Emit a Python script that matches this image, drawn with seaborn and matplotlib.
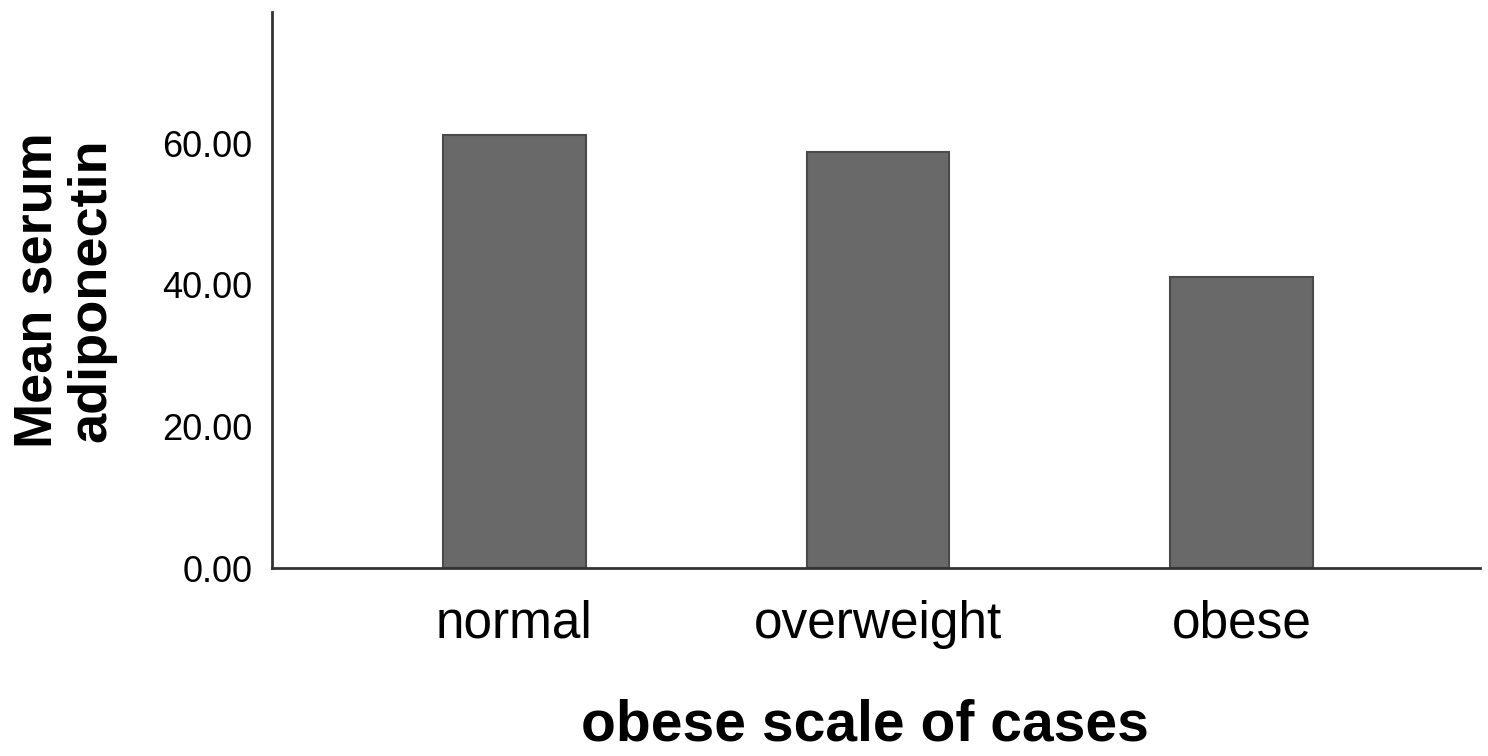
import matplotlib
matplotlib.use("Agg")
import matplotlib.pyplot as plt
import seaborn as sns
import pandas as pd

categories = ["normal", "overweight", "obese"]
mean_adiponectin = [61.2, 58.8, 41.1]
y_ticks = [0, 20, 40, 60]
y_tick_labels = ["0.00", "20.00", "40.00", "60.00"]

sns.set_theme(style="white")
plt.rcParams['font.family'] = ['Liberation Sans', 'DejaVu Sans']

df = pd.DataFrame({"cat": categories, "val": mean_adiponectin})

fig = plt.figure(figsize=(14.88, 7.56), dpi=100)
ax = fig.add_axes([272/1488, 1 - 568/756, (1480-272)/1488, (568-12)/756])

sns.barplot(data=df, x="cat", y="val", order=categories, color="#696969",
            width=0.393, edgecolor="#4a4a4a", linewidth=1.5, saturation=1, ax=ax)

ax.set_xlim(-0.667, 2.656)
ax.set_ylim(0, 78.5)
ax.set_yticks(y_ticks)
ax.set_yticklabels(y_tick_labels, fontsize=26, color="black")
ax.tick_params(axis="y", length=0, pad=14)
ax.tick_params(axis="x", length=0, pad=23, labelsize=37, labelcolor="black")

for s in ["top", "right"]:
    ax.spines[s].set_visible(False)
for s in ["left", "bottom"]:
    ax.spines[s].set_color("#333333")
    ax.spines[s].set_linewidth(2.0)

ax.set_xlabel("obese scale of cases", fontsize=41, fontweight="bold", labelpad=36, color="black")
ax.xaxis.label.set_x(0.491)
ax.set_ylabel("Mean serum\nadiponectin", fontsize=39, fontweight="bold", labelpad=33,
              color="black", linespacing=1.1)

fig.savefig("out.png", dpi=100, facecolor="white")
